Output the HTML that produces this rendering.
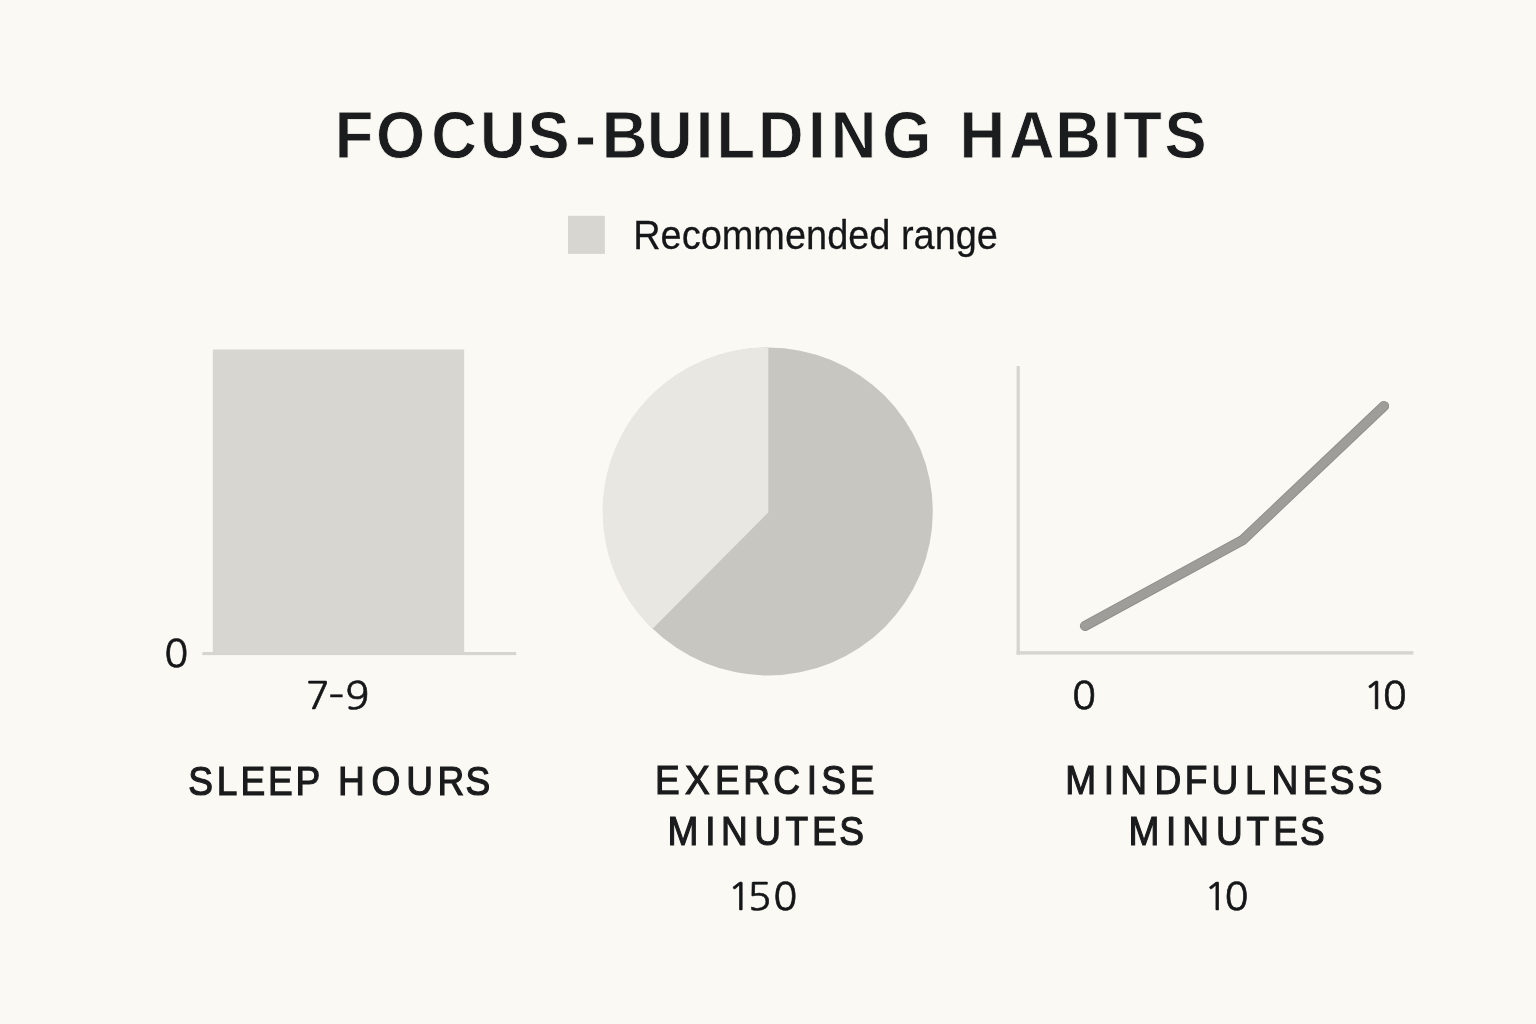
<!DOCTYPE html>
<html lang="en">
<head>
<meta charset="utf-8">
<title>Focus-Building Habits</title>
<style>
html,body{margin:0;padding:0;background:#fbf9f4;}
body{width:1536px;height:1024px;overflow:hidden;font-family:"Liberation Sans",sans-serif;}
svg{display:block;position:absolute;left:0;top:0;}
text{font-family:"Liberation Sans",sans-serif;fill:#151617;}
.title{font-weight:700;fill:#1b1c1e;stroke:#fbf9f4;stroke-width:0.8px;}
.label{font-weight:400;fill:#1a1b1c;stroke:#1a1b1c;stroke-width:1.2px;stroke-linejoin:miter;}
.num{font-family:"NanumGothic","Liberation Sans",sans-serif;font-weight:400;stroke:#151617;stroke-width:0.6px;}
.leg{font-weight:400;stroke:#151617;stroke-width:0.25px;}
</style>
</head>
<body>
<svg width="1536" height="1024" viewBox="0 0 1536 1024">
<rect x="0" y="0" width="1536" height="1024" fill="#fbf9f4"/>
<!-- legend swatch -->
<rect x="568" y="215.8" width="36.9" height="38.1" fill="#d8d6d1"/>
<!-- bar chart -->
<rect x="202.4" y="652" width="313.8" height="3.1" fill="#d6d5d0"/>
<rect x="212.8" y="349.5" width="251.4" height="304" fill="#d8d6d1"/>
<!-- pie chart -->
<ellipse cx="768" cy="511.5" rx="164.8" ry="164" fill="#c8c6c0"/>
<path d="M768.3 512.4 L768.3 347.5 A164.8 164 0 0 0 652.3 628.9 Z" fill="#e9e7e2"/>
<!-- line chart -->
<rect x="1016.6" y="366" width="3.2" height="288.6" fill="#d6d5d0"/>
<rect x="1016.6" y="651.2" width="396.8" height="3.4" fill="#d6d5d0"/>
<polyline points="1085,625.9 1242.7,540 1384,406" fill="none" stroke="#8f8e8a" stroke-width="10.2" stroke-linecap="round" stroke-linejoin="miter"/>
<polyline points="1085,625.9 1242.7,540 1384,406" fill="none" stroke="#9e9d99" stroke-width="8.4" stroke-linecap="round" stroke-linejoin="miter"/>
<!-- text -->
<text id="t1" class="title" font-size="65.8" transform="translate(0 157.70) scale(0.96 1)" x="348.75 391.67 449.27 499.90 549.48 598.85 626.87 673.96 724.79 746.35 789.58 841.67 865.42 919.06">FOCUS-BUILDING</text>
<text id="t2" class="title" font-size="65.8" transform="translate(0 157.70) scale(0.96 1)" x="999.48 1051.04 1099.27 1148.75 1170.10 1213.02">HABITS</text>
<text id="lg" class="leg" font-size="41.5" transform="translate(633.20 248.60) scale(0.9142 1)">Recommended range</text>
<text id="a0" class="num" font-size="36.8" transform="translate(0 667.30) scale(1.08 1)" x="152.13">0</text>
<text id="a79" class="num" font-size="36.8" transform="translate(0 709.30) scale(1.08 1)" x="283.06 303.89 319.73">7–9</text>
<text id="b0" class="num" font-size="36.8" transform="translate(0 709.30) scale(1.08 1)" x="992.60">0</text>
<text id="b10" class="num" font-size="36.8" transform="translate(0 709.30) scale(1.08 1)" x="1262.18 1280.37">10</text>
<text id="c1a" class="label" font-size="40.3" transform="translate(0 794.50) scale(0.92 1)" x="204.69 235.72 261.54 291.32 321.21">SLEEP</text>
<text id="c1b" class="label" font-size="40.3" transform="translate(0 794.50) scale(0.92 1)" x="367.41 403.82 441.70 475.56 506.10">HOURS</text>
<text id="c2a" class="label" font-size="40.3" transform="translate(0 794.30) scale(0.92 1)" x="711.85 744.67 777.07 807.93 840.43 876.85 892.61 923.70">EXERCISE</text>
<text id="c2b" class="label" font-size="40.3" transform="translate(0 845.10) scale(0.92 1)" x="725.65 766.63 783.80 819.89 853.91 882.61 912.28">MINUTES</text>
<text id="c2c" class="num" font-size="36.8" transform="translate(0 910.30) scale(1.08 1)" x="673.71 692.23 716.07">150</text>
<text id="c3a" class="label" font-size="40.3" transform="translate(0 794.30) scale(0.92 1)" x="1157.83 1199.78 1217.72 1254.78 1287.72 1316.96 1353.15 1382.07 1415.98 1445.33 1475.76">MINDFULNESS</text>
<text id="c3b" class="label" font-size="40.3" transform="translate(0 844.80) scale(0.92 1)" x="1226.63 1267.50 1285.11 1321.63 1354.78 1383.91 1412.93">MINUTES</text>
<text id="c3c" class="num" font-size="36.8" transform="translate(0 910.30) scale(1.08 1)" x="1114.73 1133.85">10</text>
</svg>
</body>
</html>
